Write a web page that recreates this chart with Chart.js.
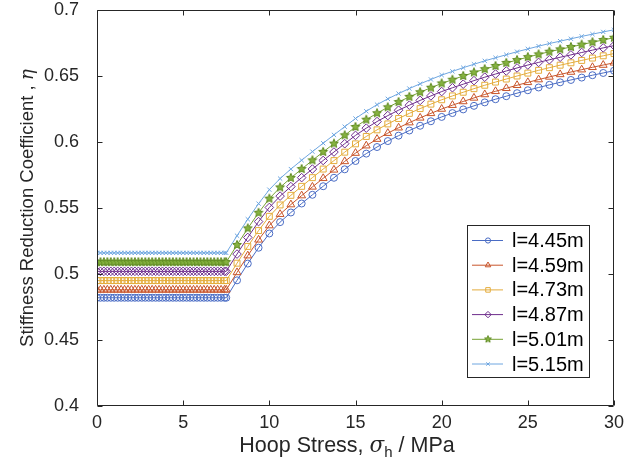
<!DOCTYPE html>
<html>
<head>
<meta charset="utf-8">
<script src="https://cdn.jsdelivr.net/npm/chart.js@4.4.1/dist/chart.umd.min.js"></script>
<style>
  html, body { margin: 0; padding: 0; background: #fff; }
  #wrap { width: 644px; height: 469px; }
</style>
</head>
<body>
<div id="wrap"><canvas id="c" width="644" height="469"></canvas></div>
<script>
// hoop stress (MPa): dense sampling on the plateau, coarser on the rising part
const flatStress = [0, 0.2, 0.4, 0.6, 0.8, 1, 1.2, 1.4, 1.6, 1.8, 2, 2.2, 2.4, 2.6, 2.8, 3, 3.2, 3.4, 3.6, 3.8,
  4, 4.2, 4.4, 4.6, 4.8, 5, 5.2, 5.4, 5.6, 5.8, 6, 6.2, 6.4, 6.6, 6.8, 7, 7.2, 7.4];
const riseStress = [7.5, 8.125, 8.75, 9.375, 10, 10.625, 11.25, 11.875, 12.5, 13.125, 13.75, 14.375, 15,
  15.625, 16.25, 16.875, 17.5, 18.125, 18.75, 19.375, 20, 20.625, 21.25, 21.875, 22.5, 23.125, 23.75,
  24.375, 25, 25.625, 26.25, 26.875, 27.5, 28.125, 28.75, 29.375, 30];

const seriesLabels = ['l=4.45m', 'l=4.59m', 'l=4.73m', 'l=4.87m', 'l=5.01m', 'l=5.15m'];
// plateau level of each curve (constant below ~7.5 MPa)
const flatLevels = [0.482, 0.488, 0.495, 0.502, 0.509, 0.516];

// eta on the rising part, one value per riseStress entry
const rise445 = [0.482, 0.4952, 0.5079, 0.5199, 0.5307, 0.5393, 0.5466, 0.5534, 0.560, 0.5665, 0.5729, 0.5793,
  0.5856, 0.5912, 0.5962, 0.6007, 0.6048, 0.6087, 0.6123, 0.6157, 0.619, 0.6219, 0.6247, 0.6274, 0.630,
  0.6324, 0.6347, 0.637, 0.6392, 0.6413, 0.6433, 0.6452, 0.647, 0.6488, 0.6506, 0.6523, 0.654];
const rise459 = [0.488, 0.5012, 0.5139, 0.5259, 0.5367, 0.5453, 0.5526, 0.5594, 0.566, 0.5725, 0.5789, 0.5853,
  0.5916, 0.5972, 0.6022, 0.6067, 0.6108, 0.6147, 0.6183, 0.6217, 0.625, 0.6279, 0.6307, 0.6334, 0.636,
  0.6384, 0.6407, 0.643, 0.6452, 0.6473, 0.6493, 0.6512, 0.653, 0.6548, 0.6566, 0.6583, 0.660];
const rise473 = [0.495, 0.5082, 0.5209, 0.5329, 0.5437, 0.5523, 0.5596, 0.5664, 0.573, 0.5795, 0.5859, 0.5923,
  0.5986, 0.6042, 0.6092, 0.6137, 0.6178, 0.6217, 0.6253, 0.6287, 0.632, 0.6349, 0.6377, 0.6404, 0.643,
  0.6454, 0.6477, 0.650, 0.6522, 0.6543, 0.6563, 0.6582, 0.660, 0.6618, 0.6636, 0.6653, 0.667];
const rise487 = [0.502, 0.5151, 0.5277, 0.5397, 0.5504, 0.559, 0.5662, 0.573, 0.5795, 0.586, 0.5924, 0.5987,
  0.605, 0.6105, 0.6155, 0.620, 0.6241, 0.6279, 0.6315, 0.6349, 0.6382, 0.6411, 0.6438, 0.6465, 0.6491,
  0.6515, 0.6538, 0.6561, 0.6583, 0.6603, 0.6623, 0.6642, 0.666, 0.6678, 0.6696, 0.6713, 0.673];
const rise501 = [0.509, 0.522, 0.5346, 0.5464, 0.5571, 0.5656, 0.5728, 0.5795, 0.5861, 0.5925, 0.5988, 0.6051,
  0.6114, 0.6169, 0.6218, 0.6263, 0.6303, 0.6342, 0.6377, 0.6411, 0.6444, 0.6472, 0.650, 0.6527, 0.6552,
  0.6576, 0.6599, 0.6621, 0.6643, 0.6664, 0.6684, 0.6702, 0.672, 0.6738, 0.6756, 0.6773, 0.679];
const rise515 = [0.516, 0.529, 0.5415, 0.5533, 0.5639, 0.5723, 0.5795, 0.5862, 0.5927, 0.5991, 0.6054, 0.6116,
  0.6178, 0.6233, 0.6283, 0.6327, 0.6367, 0.6405, 0.6441, 0.6474, 0.6507, 0.6535, 0.6563, 0.6589, 0.6615,
  0.6638, 0.6661, 0.6684, 0.6705, 0.6726, 0.6746, 0.6764, 0.6782, 0.680, 0.6817, 0.6834, 0.685];

const xTicks = [0, 5, 10, 15, 20, 25, 30];
const yTicks = [0.4, 0.45, 0.5, 0.55, 0.6, 0.65, 0.7];

const FONT = "'Liberation Sans', Arial, sans-serif";
const TXT = '#262626';

// filled pentagram marker (Chart.js has no such point style)
function makeStar(r, color, fill) {
  const c = document.createElement('canvas');
  const s = Math.ceil(r * 2 + 2);
  c.width = c.height = s;
  const g = c.getContext('2d');
  g.beginPath();
  for (let i = 0; i < 10; i++) {
    const a = -Math.PI / 2 + i * Math.PI / 5;
    const rr = i % 2 ? r * 0.45 : r;
    g.lineTo(s / 2 + rr * Math.cos(a), s / 2 + rr * Math.sin(a));
  }
  g.closePath();
  g.fillStyle = fill;
  g.fill();
  g.strokeStyle = color;
  g.lineWidth = 1;
  g.stroke();
  return c;
}

const colors = ['#4a6cc4', '#c8552b', '#e4ac3c', '#6e2d8c', '#76a233', '#6ea6e0'];
const styles = [
  { pointStyle: 'circle', radius: 3.5, legendRadius: 2.6 },
  { pointStyle: 'triangle', radius: 4.5, legendRadius: 3.2 },
  { pointStyle: 'rect', radius: 4.2, legendRadius: 3.2 },
  { pointStyle: 'rectRot', radius: 4.3, legendRadius: 3.2 },
  { pointStyle: makeStar(4.6, '#5f8a22', '#86b340'), radius: 4.6, legendStyle: makeStar(3.6, '#5f8a22', '#86b340'), legendRadius: 3.6 },
  { pointStyle: 'crossRot', radius: 3, legendRadius: 2.4 }
];

const riseValues = [rise445, rise459, rise473, rise487, rise501, rise515];

function buildPoints(level, rise) {
  return flatStress.map(x => ({ x: x, y: level }))
    .concat(riseStress.map((x, i) => ({ x: x, y: rise[i] })));
}

const datasets = seriesLabels.map((label, i) => ({
  label: label,
  data: buildPoints(flatLevels[i], riseValues[i]),
  borderColor: colors[i],
  backgroundColor: colors[i],
  borderWidth: 1,
  pointStyle: styles[i].pointStyle,
  pointRadius: styles[i].radius,
  pointBorderColor: colors[i],
  pointBackgroundColor: 'rgba(255,255,255,0)',
  pointBorderWidth: 1,
  tension: 0,
  order: 6 - i
}));

// box, inward ticks and axis titles drawn like the original figure
const framePlugin = {
  id: 'frame',
  afterDraw(chart) {
    const { ctx, chartArea: a, scales: { x, y } } = chart;
    ctx.save();
    ctx.strokeStyle = TXT;
    ctx.lineWidth = 1;
    const L = Math.round(a.left) + 0.5, R = Math.round(a.right) - 0.5;
    const T = Math.round(a.top) + 0.5, B = Math.round(a.bottom) - 0.5;
    ctx.beginPath();
    ctx.rect(L, T, R - L, B - T);
    xTicks.forEach(v => {
      const px = Math.round(x.getPixelForValue(v)) + 0.5;
      ctx.moveTo(px, B); ctx.lineTo(px, B - 5);
      ctx.moveTo(px, T); ctx.lineTo(px, T + 5);
    });
    yTicks.forEach(v => {
      const py = Math.round(y.getPixelForValue(v)) + 0.5;
      ctx.moveTo(L, py); ctx.lineTo(L + 5, py);
      ctx.moveTo(R, py); ctx.lineTo(R - 5, py);
    });
    ctx.stroke();

    ctx.fillStyle = TXT;
    ctx.textBaseline = 'alphabetic';
    // x title: Hoop Stress, sigma_h / MPa
    const xParts = [
      { t: 'Hoop Stress, ', f: '21.5px ' + FONT, dy: 0 },
      { t: 'σ', f: 'italic 21.5px "DejaVu Serif", serif', dy: 0 },
      { t: 'h', f: '15px ' + FONT, dy: 5 },
      { t: ' / MPa', f: '21.5px ' + FONT, dy: 0 }
    ];
    let w = 0;
    xParts.forEach(p => { ctx.font = p.f; p.w = ctx.measureText(p.t).width; w += p.w; });
    let cx = 347 - w / 2;
    const by = 452;
    xParts.forEach(p => { ctx.font = p.f; ctx.fillText(p.t, cx, by + p.dy); cx += p.w; });

    // y title
    ctx.translate(33, (a.top + a.bottom) / 2);
    ctx.rotate(-Math.PI / 2);
    const yParts = [
      { t: 'Stiffness Reduction Coefficient , ', f: '18.5px ' + FONT },
      { t: 'η', f: 'italic 18.5px "DejaVu Serif", serif' }
    ];
    w = 0;
    yParts.forEach(p => { ctx.font = p.f; p.w = ctx.measureText(p.t).width; w += p.w; });
    cx = -w / 2;
    yParts.forEach(p => { ctx.font = p.f; ctx.fillText(p.t, cx, 0); cx += p.w; });
    ctx.restore();
  }
};

// legend box inside the plot, bottom right
const legendPlugin = {
  id: 'boxLegend',
  afterDatasetsDraw(chart) {
    const ctx = chart.ctx;
    const bx = 467, byTop = 225, bw = 122, bh = 152, rowH = 24.7;
    ctx.save();
    ctx.fillStyle = '#fff';
    ctx.fillRect(bx, byTop, bw, bh);
    ctx.strokeStyle = TXT;
    ctx.lineWidth = 1;
    ctx.strokeRect(bx + 0.5, byTop + 0.5, bw, bh);
    ctx.font = '20px ' + FONT;
    ctx.textBaseline = 'middle';
    seriesLabels.forEach((label, i) => {
      const yy = byTop + 15.5 + i * rowH;
      ctx.strokeStyle = colors[i];
      ctx.lineWidth = 1;
      ctx.beginPath();
      ctx.moveTo(472, yy); ctx.lineTo(503, yy);
      ctx.stroke();
      ctx.fillStyle = 'rgba(255,255,255,0)';
      Chart.helpers.drawPoint(ctx, {
        pointStyle: styles[i].legendStyle || styles[i].pointStyle,
        radius: styles[i].legendRadius,
        rotation: 0,
        borderWidth: 1
      }, 488, yy);
      ctx.fillStyle = '#000';
      ctx.fillText(label, 512, yy + 1);
    });
    ctx.restore();
  }
};

new Chart(document.getElementById('c').getContext('2d'), {
  type: 'line',
  data: { datasets: datasets },
  options: {
    responsive: false,
    animation: false,
    devicePixelRatio: 1,
    layout: { padding: { left: 0, right: 30, top: 10, bottom: 0 } },
    plugins: { legend: { display: false }, tooltip: { enabled: false } },
    scales: {
      x: {
        type: 'linear',
        min: 0, max: 30,
        grid: { display: false, drawTicks: false },
        border: { display: false },
        afterFit: s => { s.height = 63; s.paddingLeft = 0; s.paddingRight = 0; },
        afterBuildTicks: s => { s.ticks = xTicks.map(v => ({ value: v })); },
        ticks: { color: TXT, font: { family: FONT, size: 18 }, padding: 6, maxRotation: 0 }
      },
      y: {
        min: 0.4, max: 0.7,
        grid: { display: false },
        border: { display: false },
        afterFit: s => { s.width = 97; s.paddingTop = 0; s.paddingBottom = 0; },
        afterBuildTicks: s => { s.ticks = yTicks.map(v => ({ value: v })); },
        ticks: {
          color: TXT, font: { family: FONT, size: 18 }, padding: 10,
          callback: v => String(+v.toFixed(2))
        }
      }
    }
  },
  plugins: [legendPlugin, framePlugin]
});
</script>
</body>
</html>
